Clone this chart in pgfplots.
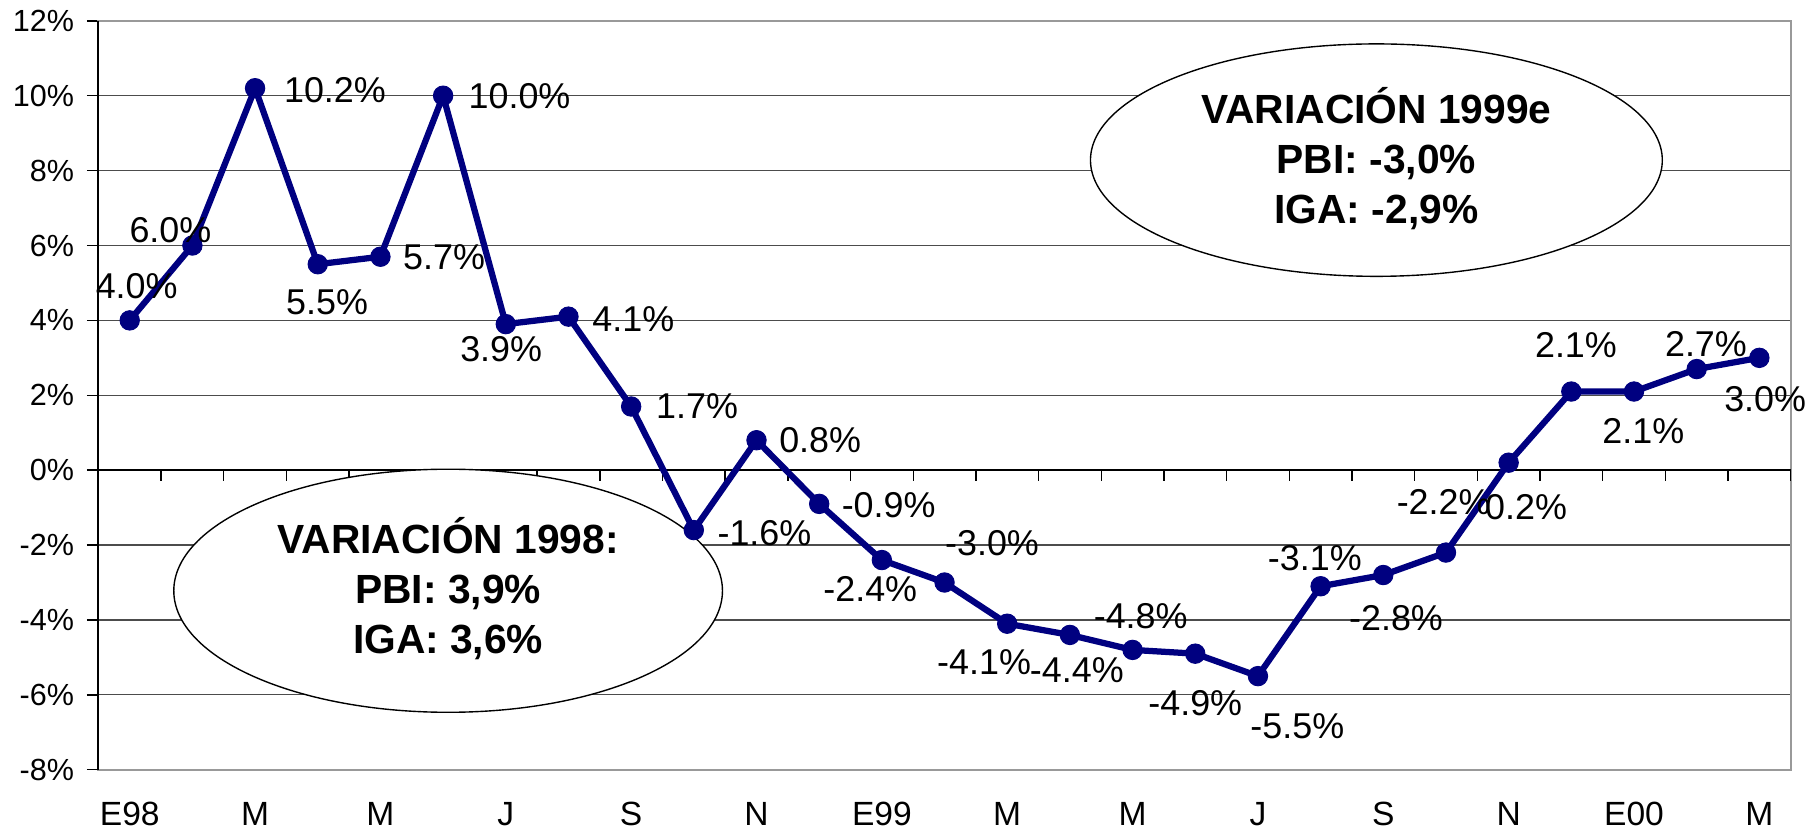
\documentclass[border=0pt]{standalone}
\usepackage{fontspec}
\setmainfont{Liberation Sans}
\usepackage{pgfplots}
\usepackage{pgfplotstable}
\pgfplotsset{compat=1.18}
\definecolor{navy}{RGB}{0,0,128}

\pgfplotstableread{
x y dx dy
0 4.0 3 15
1 6.0 -9.5 6.5
2 10.2 34.5 -1
3 5.5 4 -16.5
4 5.7 27.5 0
5 10.0 33 0
6 3.9 -2 -11
7 4.1 28 -1
8 1.7 28.5 0
9 -1.6 30.5 -1.5
10 0.8 27.5 0
11 -0.9 30 -0.5
12 -2.4 -5 -12.5
13 -3.0 20.5 17
14 -4.1 -10 -16.5
15 -4.4 3 -15
16 -4.8 3.5 14.5
17 -4.9 0 -21.5
18 -5.5 17 -21.5
19 -3.1 -2.5 12
20 -2.8 5.5 -18.5
21 -2.2 -1 22
22 0.2 7.5 -19
23 2.1 2 20
24 2.1 4 -17
25 2.7 4 11
26 3.0 2.5 -18
}\datatable

\begin{document}
\begin{tikzpicture}
\begin{axis}[
  scale only axis, width=731pt, height=323.5pt,
  xmin=-0.5, xmax=26.5, ymin=-8, ymax=12,
  xtick={0,2,...,26},
  xticklabels={E98,M,M,J,S,N,E99,M,M,J,S,N,E00,M},
  ytick={-8,-6,...,12},
  yticklabel={\pgfmathprintnumber{\tick}\%},
  /pgf/number format/assume math mode=true,
  ymajorgrids, grid style={black!70, line width=0.5pt},
  axis line style={black!40, line width=0.8pt},
  ytick pos=left, tick align=outside,
  major tick length=5pt,
  xtick style={draw=none},
  ytick style={black, line width=0.6pt},
  xticklabel style={font=\fontsize{14.5}{16}\selectfont, yshift=-5.5pt},
  yticklabel style={font=\fontsize{13.2}{15}\selectfont, xshift=-2pt},
  clip=false,
]
\coordinate (ll) at (rel axis cs:0,0);
\coordinate (ur) at (rel axis cs:1,1);
% y axis line and x axis on the zero line
\draw[black, line width=0.8pt] (axis cs:-0.5,-8) -- (axis cs:-0.5,12);
\draw[black, line width=0.7pt] (axis cs:-0.5,0) -- (axis cs:26.5,0);
\pgfplotsinvokeforeach{0.5,1.5,...,26.5}{
  \draw[black, line width=0.6pt] (axis cs:#1,0) -- ([yshift=-4.5pt]axis cs:#1,0);
}
% annotation ellipses
\draw[black, fill=white, line width=0.6pt] (axis cs:5.08,-3.22) ellipse [x radius=118.5pt, y radius=52.5pt];
\node[align=center, font=\bfseries\fontsize{17.6}{21.6}\selectfont] at (axis cs:5.08,-3.17) {VARIACIÓN 1998:\\PBI: 3,9\%\\IGA: 3,6\%};
\draw[black, fill=white, line width=0.6pt] (axis cs:19.89,8.28) ellipse [x radius=123.5pt, y radius=50.2pt];
\node[align=center, font=\bfseries\fontsize{17.6}{21.6}\selectfont] at (axis cs:19.89,8.33) {VARIACIÓN 1999e\\PBI: -3,0\%\\IGA: -2,9\%};

\addplot[navy, line width=2.7pt, mark=*, mark size=4.2pt,
  mark options={solid, fill=navy, draw=navy, line width=0.4pt},
  point meta=\thisrow{y},
  nodes near coords={\pgfmathprintnumber[fixed,fixed zerofill,precision=1]{\pgfplotspointmeta}\%},
  visualization depends on={\thisrow{dx}\as\mydx},
  visualization depends on={\thisrow{dy}\as\mydy},
  every node near coord/.append style={anchor=center, xshift=\mydx pt, yshift=\mydy pt, text=black, font=\fontsize{15.5}{17}\selectfont},
] table[x=x, y=y] {\datatable};
\end{axis}
\pgfresetboundingbox
\useasboundingbox ([shift={(-42.5pt,-27.5pt)}]ll) rectangle ([shift={(10.5pt,9pt)}]ur);
\end{tikzpicture}
\end{document}
